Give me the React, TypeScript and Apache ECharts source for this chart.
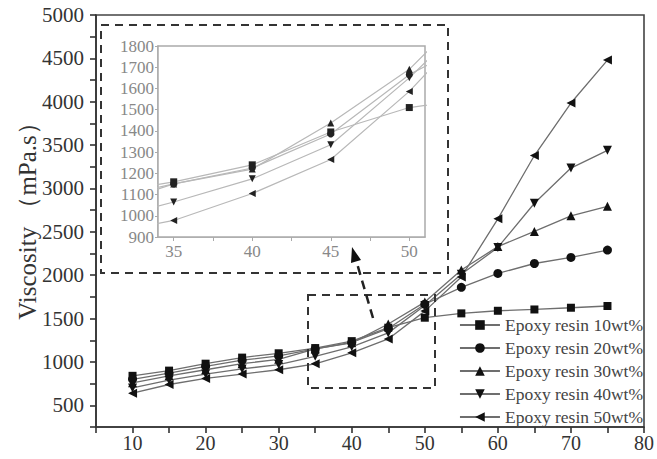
import React, { useEffect, useRef } from "react";
import * as echarts from "echarts";

const xValues = [10, 15, 20, 25, 30, 35, 40, 45, 50, 55, 60, 65, 70, 75];
const seriesNames = [
  "Epoxy resin 10wt%",
  "Epoxy resin 20wt%",
  "Epoxy resin 30wt%",
  "Epoxy resin 40wt%",
  "Epoxy resin 50wt%",
];
const resin10 = [840, 900, 980, 1050, 1100, 1160, 1240, 1395, 1510, 1560, 1590, 1605, 1625, 1645];
const resin20 = [800, 870, 950, 1020, 1070, 1150, 1225, 1385, 1665, 1860, 2020, 2135, 2205, 2290];
const resin30 = [760, 840, 910, 980, 1030, 1150, 1220, 1437, 1690, 2060, 2330, 2505, 2685, 2795];
const resin40 = [700, 790, 860, 920, 970, 1065, 1174, 1335, 1650, 2010, 2320, 2830, 3235, 3440];
const resin50 = [640, 740, 810, 860, 910, 978, 1105, 1265, 1586, 1980, 2650, 3380, 3985, 4480];
const seriesValues = [resin10, resin20, resin30, resin40, resin50];
const insetXLabels = [35, 40, 45, 50];
const insetXTicks = [35, 37.5, 40, 42.5, 45, 47.5, 50];
const yAxisTitle = "Viscosity \uFF08mPa.s\uFF09";

const symbols = ["rect", "circle", "triangle", "triangle", "triangle"];
const rotations = [0, 0, 0, 180, 90];
const FONT = "Liberation Serif";

export default function App() {
  const ref = useRef<HTMLDivElement>(null);
  useEffect(() => {
    if (!ref.current) return;
    const chart = echarts.init(ref.current, null, { renderer: "svg" });
    const mainSeries = seriesNames.map((name, i) => ({
      name,
      type: "line",
      xAxisIndex: 0,
      yAxisIndex: 0,
      data: xValues.map((x, j) => [x, seriesValues[i][j]]),
      symbol: symbols[i],
      symbolRotate: rotations[i],
      symbolSize: i === 0 ? 8 : 9,
      lineStyle: { color: "#6e6e6e", width: 1.3 },
      itemStyle: { color: "#111" },
      z: 3,
    }));
    const insetSeries = seriesNames.map((name, i) => ({
      name,
      type: "line",
      xAxisIndex: 1,
      yAxisIndex: 1,
      data: xValues.map((x, j) => [x, seriesValues[i][j]]),
      symbol: symbols[i],
      symbolRotate: rotations[i],
      symbolSize: 7,
      clip: true,
      lineStyle: { color: "#b8b8b8", width: 1.2 },
      itemStyle: { color: "#222" },
      z: 5,
    }));
    const ax = { color: "#333", width: 1.6 };
    chart.setOption({
      animation: false,
      backgroundColor: "#fff",
      textStyle: { fontFamily: FONT },
      grid: [
        { left: 96, right: 5, top: 15, bottom: 32, show: true, borderColor: "#444", borderWidth: 1.6 },
        { left: 158, right: 232, top: 46, bottom: 222, show: true, borderColor: "#aaa", borderWidth: 1.5, backgroundColor: "#fff", z: 4 },
      ],
      legend: {
        orient: "vertical",
        right: 9,
        top: 311,
        itemWidth: 40,
        itemHeight: 12,
        itemGap: 5,
        data: seriesNames,
        textStyle: { fontFamily: FONT, fontSize: 17.5, color: "#444", lineHeight: 17 },
      },
      xAxis: [
        {
          type: "value",
          gridIndex: 0,
          min: 5,
          max: 80,
          interval: 5,
          axisLine: { lineStyle: ax },
          axisTick: { show: true, length: 6, lineStyle: ax },
          splitLine: { show: false },
          axisLabel: {
            fontFamily: FONT,
            fontSize: 20,
            color: "#333",
            margin: 6,
            showMinLabel: true,
            showMaxLabel: true,
            formatter: (v: number) => (v % 10 === 0 ? String(v) : ""),
          },
        },
        {
          type: "value",
          gridIndex: 1,
          min: 34,
          max: 51,
          axisLine: { lineStyle: { color: "#aaa", width: 1.5 } },
          axisTick: { show: true, length: 4, customValues: insetXTicks, lineStyle: { color: "#aaa" } },
          splitLine: { show: false },
          axisLabel: {
            customValues: insetXLabels,
            fontFamily: FONT,
            fontSize: 17,
            color: "#888",
            margin: 6,
          },
        },
      ],
      yAxis: [
        {
          type: "value",
          gridIndex: 0,
          min: 250,
          max: 5000,
          interval: 250,
          axisLine: { lineStyle: ax },
          axisTick: { show: true, length: 6, lineStyle: ax },
          splitLine: { show: false },
          axisLabel: {
            fontFamily: FONT,
            fontSize: 21,
            color: "#333",
            margin: 12,
            formatter: (v: number) => (v % 500 === 0 ? String(v) : ""),
          },
        },
        {
          type: "value",
          gridIndex: 1,
          min: 900,
          max: 1800,
          interval: 100,
          axisLine: { lineStyle: { color: "#aaa", width: 1.5 } },
          axisTick: { show: true, length: 3, lineStyle: { color: "#aaa" } },
          splitLine: { show: false },
          axisLabel: {
            fontFamily: FONT,
            fontSize: 17,
            color: "#888",
            margin: 4,
            formatter: (v: number) => String(v),
          },
        },
      ],
      series: [...mainSeries, ...insetSeries],
      graphic: [
        {
          type: "text",
          x: 27,
          y: 215,
          rotation: Math.PI / 2,
          style: {
            text: yAxisTitle,
            fontFamily: FONT,
            fontSize: 25,
            fill: "#333",
            align: "center",
            verticalAlign: "middle",
          },
          z: 10,
        },
        {
          type: "rect",
          shape: { x: 101, y: 25, width: 347, height: 248 },
          style: { fill: "none", stroke: "#333", lineWidth: 2, lineDash: [8, 6] },
          z: 10,
        },
        {
          type: "rect",
          shape: { x: 308, y: 295, width: 127, height: 93 },
          style: { fill: "none", stroke: "#333", lineWidth: 2, lineDash: [8, 6] },
          z: 10,
        },
        {
          type: "line",
          shape: { x1: 373, y1: 318, x2: 356, y2: 260 },
          style: { stroke: "#222", lineWidth: 2.5, lineDash: [9, 6] },
          z: 10,
        },
        {
          type: "polygon",
          shape: { points: [[352, 247], [361, 260], [351, 263]] },
          style: { fill: "#111" },
          z: 10,
        },
      ],
    });
    return () => chart.dispose();
  }, []);
  return (
    <div
      ref={ref}
      style={{ position: "fixed", left: 0, top: 0, width: 657, height: 459 }}
    />
  );
}
